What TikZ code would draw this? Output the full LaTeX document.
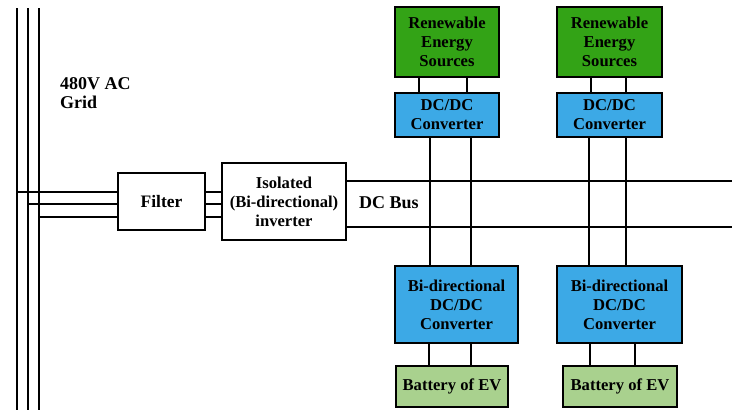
\documentclass[tikz,border=0pt]{standalone}
\usepackage{fontspec}
\setmainfont{Liberation Serif}
\usetikzlibrary{calc}
\definecolor{rengreen}{HTML}{33A316}
\definecolor{convblue}{HTML}{3CA9E6}
\definecolor{batgreen}{HTML}{A9D18E}
\begin{document}
\begin{tikzpicture}[x=1pt,y=-1pt,
  every node/.style={font=\bfseries\fontsize{16.6}{19}\selectfont, align=center, inner sep=0pt},
  blk/.style={draw, line width=2.4pt, rectangle},
  wire/.style={line width=2.4pt},
  ren/.style={blk, fill=rengreen},
  conv/.style={blk, fill=convblue},
  bat/.style={blk, fill=batgreen},
  big/.style={font=\bfseries\fontsize{18}{19.5}\selectfont}]
\useasboundingbox (0,0) rectangle (732,410);
% grid lines
\coordinate (g1t) at (17,8);  \coordinate (g1b) at (17,410);
\coordinate (g2t) at (28,8);  \coordinate (g2b) at (28,410);
\coordinate (g3t) at (39,8);  \coordinate (g3b) at (39,410);
\draw[wire] (g1t) -- (g1b);
\draw[wire] (g2t) -- (g2b);
\draw[wire] (g3t) -- (g3b);
\node[big, anchor=north west, align=left] (gridlbl) at (60,77) {480V AC\\Grid};
% boxes
\node[blk, minimum width=87pt, minimum height=57pt, fill=white, font=\bfseries\fontsize{17.5}{19}\selectfont] (filter) at (161.5,201.5) {Filter};
\node[blk, minimum width=124pt, minimum height=77pt, fill=white] (inv) at (284,201.5) {Isolated\\(Bi-directional)\\inverter};
\node[big] (dcbus) at (389,203) {DC Bus};
\node[ren, minimum width=104pt, minimum height=70pt] (ren1) at (447,42) {Renewable\\Energy\\Sources};
\node[ren, minimum width=105pt, minimum height=70pt] (ren2) at (609.5,42) {Renewable\\Energy\\Sources};
\node[conv, minimum width=104pt, minimum height=44pt] (dc1) at (447,115) {DC/DC\\Converter};
\node[conv, minimum width=105pt, minimum height=44pt] (dc2) at (609.5,115) {DC/DC\\Converter};
\node[conv, minimum width=123pt, minimum height=77pt] (bi1) at (456.5,304.5) {Bi-directional\\DC/DC\\Converter};
\node[conv, minimum width=125pt, minimum height=77pt] (bi2) at (619.5,304.5) {Bi-directional\\DC/DC\\Converter};
\node[bat, minimum width=112pt, minimum height=41pt] (bat1) at (452,386.5) {Battery of EV};
\node[bat, minimum width=114pt, minimum height=41pt] (bat2) at (620,386.5) {Battery of EV};
% grid to filter
\coordinate (h1) at (17,192);
\coordinate (h2) at (28,204);
\coordinate (h3) at (39,217);
\draw[wire] (h1) -- (filter.west |- h1);
\draw[wire] (h2) -- (filter.west |- h2);
\draw[wire] (h3) -- (filter.west |- h3);
% filter to inverter
\draw[wire] (filter.east |- h1) -- (inv.west |- h1);
\draw[wire] (filter.east |- h2) -- (inv.west |- h2);
\draw[wire] (filter.east |- h3) -- (inv.west |- h3);
% DC bus
\coordinate (bus1) at (732,181);
\coordinate (bus2) at (732,227);
\draw[wire] (inv.east |- bus1) -- (bus1);
\draw[wire] (inv.east |- bus2) -- (bus2);
% renewable to dcdc
\draw[wire] ([xshift=-28pt]ren1.south) -- ([xshift=-28pt]dc1.north);
\draw[wire] ([xshift=20pt]ren1.south) -- ([xshift=20pt]dc1.north);
\draw[wire] ([xshift=-18.5pt]ren2.south) -- ([xshift=-18.5pt]dc2.north);
\draw[wire] ([xshift=16.5pt]ren2.south) -- ([xshift=16.5pt]dc2.north);
% dcdc to bidirectional
\draw[wire] ([xshift=-17pt]dc1.south) -- ([xshift=-17pt]dc1.south |- bi1.north);
\draw[wire] ([xshift=24pt]dc1.south) -- ([xshift=24pt]dc1.south |- bi1.north);
\draw[wire] ([xshift=-20.5pt]dc2.south) -- ([xshift=-20.5pt]dc2.south |- bi2.north);
\draw[wire] ([xshift=16.5pt]dc2.south) -- ([xshift=16.5pt]dc2.south |- bi2.north);
% bidirectional to battery
\draw[wire] ([xshift=-27.5pt]bi1.south) -- ([xshift=-27.5pt]bi1.south |- bat1.north);
\draw[wire] ([xshift=14.5pt]bi1.south) -- ([xshift=14.5pt]bi1.south |- bat1.north);
\draw[wire] ([xshift=-29.5pt]bi2.south) -- ([xshift=-29.5pt]bi2.south |- bat2.north);
\draw[wire] ([xshift=15.5pt]bi2.south) -- ([xshift=15.5pt]bi2.south |- bat2.north);
\end{tikzpicture}
\end{document}
